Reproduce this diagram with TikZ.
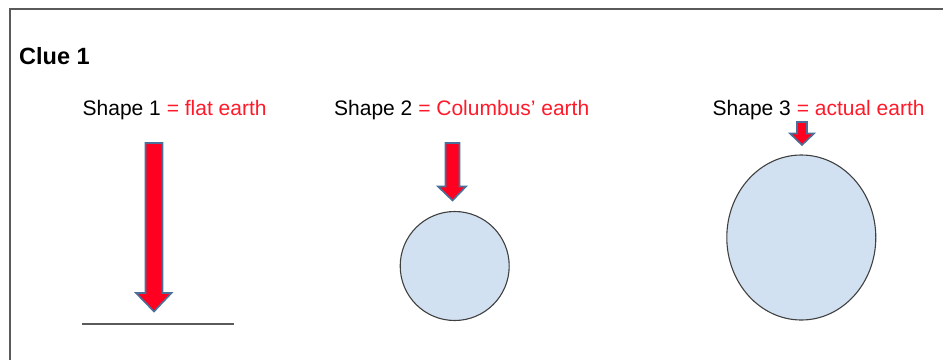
\documentclass[tikz,border=0pt]{standalone}
\usepackage{fontspec}
\setmainfont{Liberation Sans}
\usepackage{xcolor}
\usepackage{tikz}
\definecolor{arrowred}{HTML}{FF0020}
\definecolor{textred}{HTML}{FF1A2A}
\definecolor{arrowedge}{HTML}{4A6F98}
\definecolor{earthblue}{HTML}{D2E1F1}
\definecolor{framegray}{HTML}{5A5A5A}

\begin{document}
\begin{tikzpicture}[x=1pt,y=-1pt,
  lbl/.style={anchor=base west,inner sep=0pt,font=\fontsize{21}{24}\selectfont},
  redarrow/.style={fill=arrowred,draw=arrowedge,line width=1.6pt,line join=miter},
  earth/.style={fill=earthblue,draw=black!75,line width=1.1pt}]
\useasboundingbox(0,0)rectangle(943,360);
\draw[framegray,line width=2pt](10,360)--(10,8.5)--(943,8.5);
\node[anchor=base west,inner sep=0pt,font=\fontsize{23.5}{26}\selectfont\bfseries](clue)at(19,64){Clue 1};
\node[lbl](s1)at(82.5,115){Shape 1 \textcolor{textred}{= flat earth}};
\node[lbl](s2)at(334,115){Shape 2 \textcolor{textred}{= Columbus’ earth}};
\node[lbl](s3)at(712.5,115){Shape 3 \textcolor{textred}{= actual earth}};
% shape 1: long arrow onto a flat line
\draw[redarrow](145.5,143)--(162.5,143)--(162.5,293)--(171.5,293)--(154,311.5)--(136,293)--(145.5,293)--cycle;
\draw[framegray,line width=1.4pt](82,324)--(234,324);
% shape 2: circle
\draw[redarrow](445.5,143)--(459.5,143)--(459.5,186.5)--(466,186.5)--(452.5,200.5)--(438,186.5)--(445.5,186.5)--cycle;
\draw[earth](454.7,266)circle[radius=54.5];
% shape 3: ellipse
\draw[redarrow](797,122)--(807,122)--(807,133.5)--(814,133.5)--(802,145)--(790,133.5)--(797,133.5)--cycle;
\draw[earth](801.3,237.5)ellipse[x radius=74.5,y radius=82.5];
\end{tikzpicture}
\end{document}
